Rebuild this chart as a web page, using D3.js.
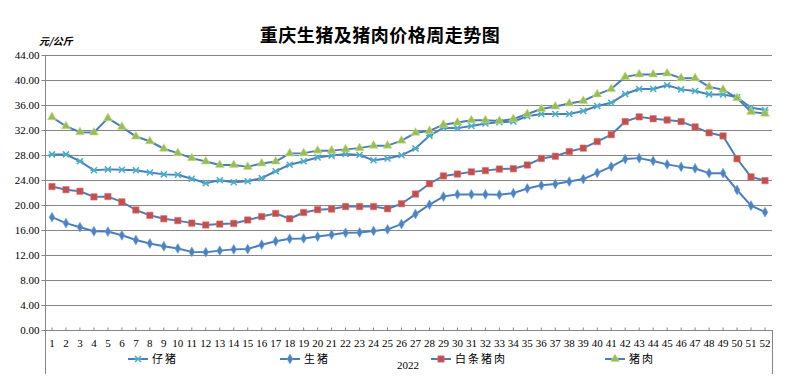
<!DOCTYPE html>
<html>
<head>
<meta charset="utf-8">
<script src="https://cdn.jsdelivr.net/npm/d3@7"></script>
<style>
  body { margin: 0; background: #fff; }
  svg { display: block; }
</style>
</head>
<body>
<div id="chart"></div>
<script>
// week numbers for 2022
const weeks = d3.range(1, 53)
const yTicks = [0, 4, 8, 12, 16, 20, 24, 28, 32, 36, 40, 44]

// 仔猪
const piglet = [28.1, 28.1, 27.0, 25.55, 25.7, 25.65, 25.55, 25.2, 24.9, 24.85,
  24.2, 23.5, 23.95, 23.65, 23.8, 24.3, 25.4, 26.45, 27.0, 27.6,
  27.9, 28.15, 28.0, 27.15, 27.45, 27.95, 29.05, 31.1, 32.35, 32.3,
  32.65, 33.05, 33.25, 33.35, 34.2, 34.55, 34.55, 34.55, 35.05, 35.85,
  36.35, 37.75, 38.55, 38.55, 39.15, 38.5, 38.25, 37.7, 37.7, 37.25,
  35.55, 35.2]
// 生猪
const hog = [18.05, 17.1, 16.45, 15.8, 15.75, 15.15, 14.4, 13.85, 13.4, 13.05,
  12.5, 12.45, 12.7, 12.9, 12.95, 13.65, 14.2, 14.6, 14.65, 14.95,
  15.25, 15.55, 15.6, 15.85, 16.1, 16.95, 18.55, 20.05, 21.35, 21.7,
  21.7, 21.7, 21.65, 21.9, 22.65, 23.15, 23.35, 23.75, 24.15, 25.15,
  26.15, 27.35, 27.5, 27.05, 26.5, 26.1, 25.85, 25.1, 25.1, 22.4,
  19.9, 18.85]
// 白条猪肉
const carcass = [22.95, 22.45, 22.2, 21.3, 21.35, 20.5, 19.2, 18.35, 17.8, 17.5,
  17.1, 16.8, 16.95, 17.05, 17.6, 18.15, 18.65, 17.8, 18.8, 19.25,
  19.35, 19.75, 19.75, 19.75, 19.4, 20.2, 21.75, 23.4, 24.65, 24.95,
  25.3, 25.5, 25.75, 25.8, 26.4, 27.45, 27.8, 28.55, 29.1, 30.15,
  31.25, 33.35, 34.1, 33.8, 33.6, 33.35, 32.5, 31.55, 31.05, 27.4,
  24.5, 23.9]
// 猪肉
const pork = [34.05, 32.6, 31.65, 31.6, 33.9, 32.5, 30.95, 30.2, 29.0, 28.3,
  27.5, 26.95, 26.4, 26.4, 26.1, 26.65, 26.95, 28.25, 28.3, 28.7,
  28.7, 28.9, 29.1, 29.5, 29.5, 30.3, 31.55, 31.85, 32.85, 33.2,
  33.55, 33.55, 33.45, 33.75, 34.55, 35.35, 35.75, 36.25, 36.65, 37.7,
  38.55, 40.5, 40.9, 40.9, 41.05, 40.3, 40.3, 38.9, 38.45, 37.1,
  34.9, 34.6]

const series = [
  {name: "仔猪", values: piglet, marker: "x", color: "#4bacc6"},
  {name: "生猪", values: hog, marker: "diamond", color: "#4f81bd"},
  {name: "白条猪肉", values: carcass, marker: "square", color: "#c0504d"},
  {name: "猪肉", values: pork, marker: "triangle", color: "#9bbb59"}
]

var width = 808, height = 387
var margin = {top: 55, right: 36, bottom: 57, left: 45}

var svg = d3.select("#chart").append("svg")
  .attr("width", width)
  .attr("height", height)

var x = d3.scaleBand()
  .domain(weeks)
  .range([margin.left, width - margin.right])

var y = d3.scaleLinear()
  .domain([0, 44])
  .range([height - margin.bottom, margin.top])

const serif = "'Liberation Serif', 'Times New Roman', serif"
const cjk = "'Noto Sans CJK SC', sans-serif"

// title
svg.append("text")
  .attr("x", 380).attr("y", 42)
  .attr("text-anchor", "middle")
  .style("font-family", cjk)
  .style("font-weight", "bold")
  .style("font-size", "18px")
  .style("letter-spacing", "0.5px")
  .text("重庆生猪及猪肉价格周走势图")

// unit
svg.append("text")
  .attr("x", 39).attr("y", 45)
  .style("font-family", cjk)
  .style("font-weight", "bold")
  .style("font-style", "italic")
  .style("font-size", "10px")
  .text("元/公斤")

// gridlines
svg.append("g")
  .selectAll("line")
  .data(yTicks)
  .enter()
  .append("line")
  .attr("x1", margin.left)
  .attr("x2", width - margin.right)
  .attr("y1", d => Math.round(y(d)) + 0.5)
  .attr("y2", d => Math.round(y(d)) + 0.5)
  .style("stroke", "#868686")
  .style("stroke-width", 1)

// y axis
var yAxis = svg.append("g")
  .attr("transform", "translate(" + (margin.left + 0.5) + ",0)")
  .call(d3.axisLeft(y).tickValues(yTicks).tickSize(4).tickPadding(2)
    .tickFormat(d3.format(".2f")))
yAxis.select(".domain").remove()
yAxis.selectAll(".tick line").style("stroke", "#868686")
yAxis.selectAll("text")
  .style("font-family", serif)
  .style("font-size", "11px")
  .style("fill", "#000")

// left axis line, extended below for category group box
svg.append("line")
  .attr("x1", margin.left + 0.5).attr("x2", margin.left + 0.5)
  .attr("y1", margin.top).attr("y2", 374)
  .style("stroke", "#868686")
svg.append("line")
  .attr("x1", width - margin.right + 0.5).attr("x2", width - margin.right + 0.5)
  .attr("y1", y(0)).attr("y2", 374)
  .style("stroke", "#868686")

// x axis ticks (inside) and labels
var xAxis = svg.append("g")
  .attr("transform", "translate(0," + (Math.round(y(0)) + 0.5) + ")")
  .call(d3.axisTop(x).tickSize(3).tickFormat(""))
xAxis.select(".domain").remove()
xAxis.selectAll(".tick line").style("stroke", "#868686")

svg.append("g")
  .selectAll("text")
  .data(weeks)
  .enter()
  .append("text")
  .attr("x", d => x(d) + x.bandwidth() / 2)
  .attr("y", 347)
  .attr("text-anchor", "middle")
  .style("font-family", serif)
  .style("font-size", "11px")
  .text(d => d)

svg.append("text")
  .attr("x", 408).attr("y", 369)
  .attr("text-anchor", "middle")
  .style("font-family", serif)
  .style("font-size", "11px")
  .text("2022")

// markers
function drawMarker(g, type, color, cx, cy) {
  if (type == "x") {
    g.append("path")
      .attr("d", "M" + (cx - 3) + "," + (cy - 3) + "L" + (cx + 3) + "," + (cy + 3) +
        "M" + (cx - 3) + "," + (cy + 3) + "L" + (cx + 3) + "," + (cy - 3) +
        "M" + (cx - 3.5) + "," + cy + "L" + (cx + 3.5) + "," + cy)
      .style("stroke", color)
      .style("stroke-width", 1.5)
      .style("fill", "none")
  } else {
    var sym = {diamond: d3.symbolDiamond, square: d3.symbolSquare, triangle: d3.symbolTriangle}[type]
    var size = {diamond: 28, square: 40, triangle: 34}[type]
    g.append("path")
      .attr("d", d3.symbol().type(sym).size(size)())
      .attr("transform", "translate(" + cx + "," + cy + ")")
      .style("fill", color)
      .style("stroke", d3.color(color).brighter(0.6))
      .style("stroke-width", 0.6)
  }
}

var line = d3.line()
  .x((d, i) => x(weeks[i]) + x.bandwidth() / 2)
  .y(d => y(d))

series.forEach(function(s) {
  var g = svg.append("g")
  g.append("path")
    .datum(s.values)
    .attr("d", line)
    .style("fill", "none")
    .style("stroke", "#4a7ebb")
    .style("stroke-width", 2)
    .style("stroke-linejoin", "round")
  s.values.forEach(function(v, i) {
    drawMarker(g, s.marker, s.color, x(weeks[i]) + x.bandwidth() / 2, y(v))
  })
})

// legend
const legendX = [128, 280, 431, 605]
series.forEach(function(s, i) {
  var g = svg.append("g")
  g.append("line")
    .attr("x1", legendX[i]).attr("x2", legendX[i] + 20)
    .attr("y1", 359).attr("y2", 359)
    .style("stroke", "#4a7ebb")
    .style("stroke-width", 2)
  drawMarker(g, s.marker, s.color, legendX[i] + 10, 359)
  g.append("text")
    .attr("x", legendX[i] + 24).attr("y", 363)
    .style("font-family", cjk)
    .style("font-size", "11px")
    .style("letter-spacing", "2px")
    .text(s.name)
})
</script>
</body>
</html>
